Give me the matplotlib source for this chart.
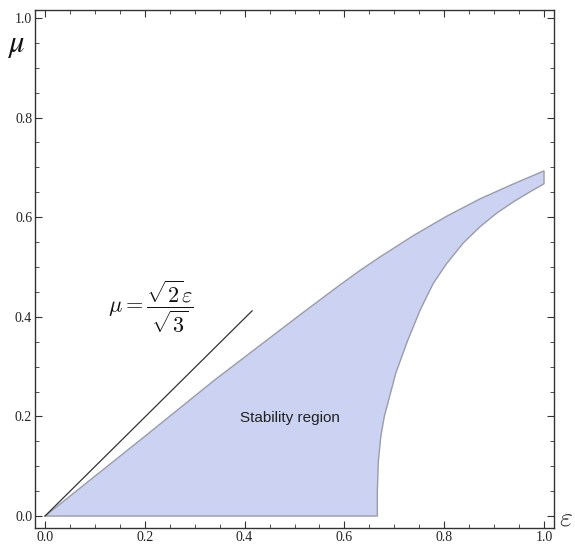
import matplotlib
matplotlib.use("Agg")
import matplotlib.pyplot as plt
from matplotlib.ticker import MultipleLocator

# Upper boundary of the stability region (epsilon -> mu)
upper_eps = [0.0, 0.10, 0.20, 0.341, 0.43, 0.511, 0.591, 0.631, 0.671, 0.738, 0.805, 0.872, 0.939, 1.0]
upper_mu = [0.0, 0.080, 0.160, 0.274, 0.342, 0.404, 0.464, 0.493, 0.520, 0.563, 0.602, 0.637, 0.667, 0.693]

# Lower/right boundary of the stability region (from mu=0 upward)
lower_eps = [0.666, 0.666, 0.668, 0.673, 0.680, 0.703, 0.727, 0.752, 0.778, 0.805, 0.838, 0.872, 0.905, 0.939, 0.972, 1.0]
lower_mu = [0.0, 0.05, 0.11, 0.16, 0.20, 0.287, 0.353, 0.414, 0.467, 0.507, 0.548, 0.581, 0.608, 0.631, 0.651, 0.667]

# Reference line
line_eps = [0.0, 0.415]
line_mu = [0.0, 0.412]

x_ticks = [0.0, 0.2, 0.4, 0.6, 0.8, 1.0]
y_ticks = [0.0, 0.2, 0.4, 0.6, 0.8, 1.0]
tick_labels = ["0.0", "0.2", "0.4", "0.6", "0.8", "1.0"]

fig = plt.figure(figsize=(5.75, 5.46), dpi=100)
ax = fig.add_axes([35 / 575, 18 / 546, 519 / 575, 518 / 546])

poly_x = list(upper_eps) + list(lower_eps[::-1]) + [upper_eps[0]]
poly_y = list(upper_mu) + list(lower_mu[::-1]) + [upper_mu[0]]
ax.fill(poly_x, poly_y, facecolor="#cbd2f2", edgecolor="#9a9cab", linewidth=1.0,
        joinstyle="round", zorder=2)

ax.plot(line_eps, line_mu, color="#333333", linewidth=0.9, zorder=3)

ax.text(0.491, 0.197, "Stability region", ha="center", va="center",
        fontsize=11, family="Liberation Sans", color="#222222", zorder=4)
ax.text(0.212, 0.420, r"$\mu = \dfrac{\sqrt{2}\varepsilon}{\sqrt{3}}$", ha="center", va="center",
        fontsize=16, math_fontfamily="cm", color="#111111", zorder=4)

ax.set_xlim(-0.020, 1.020)
ax.set_ylim(-0.024, 1.016)

ax.set_xticks(x_ticks)
ax.set_xticklabels(tick_labels)
ax.set_yticks(y_ticks)
ax.set_yticklabels(tick_labels)
ax.xaxis.set_minor_locator(MultipleLocator(0.05))
ax.yaxis.set_minor_locator(MultipleLocator(0.05))
ax.tick_params(which="both", direction="in", top=True, right=True, color="#333333")
ax.tick_params(which="major", length=5, width=0.8, labelsize=10, pad=2)
ax.tick_params(which="minor", length=3, width=0.6)
for lab in ax.get_xticklabels() + ax.get_yticklabels():
    lab.set_family("Liberation Serif")
    lab.set_color("#222222")
for sp in ax.spines.values():
    sp.set_color("#333333")
    sp.set_linewidth(1.0)

fig.text(16 / 575, 1 - 45 / 546, r"$\mu$", fontsize=22, math_fontfamily="stix",
         ha="center", va="center", color="#111111")
fig.text(566 / 575, 1 - 517 / 546, r"$\varepsilon$", fontsize=20, math_fontfamily="cm",
         ha="center", va="center", color="#333333")

fig.savefig("out.png", dpi=100)
